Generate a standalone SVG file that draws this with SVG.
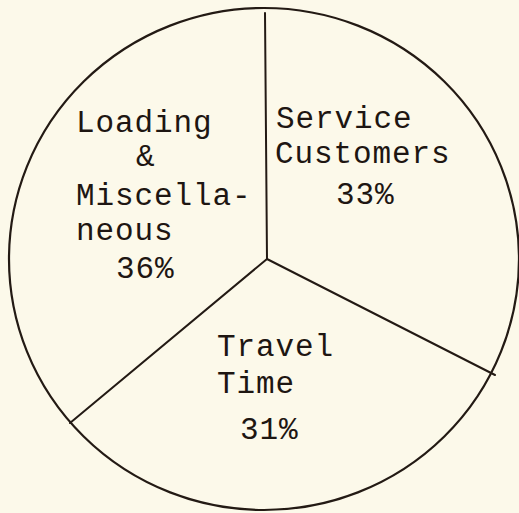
<svg xmlns="http://www.w3.org/2000/svg" width="519" height="513" viewBox="0 0 519 513">
  <style>
    .bg { fill: #fcf9ea; }
    .rim { fill: none; stroke: #231a14; stroke-width: 2.2; }
    .spoke { fill: none; stroke: #231a14; stroke-width: 2; stroke-linecap: round; }
    .lbl { font-family: "Liberation Mono", "DejaVu Sans Mono", monospace; font-size: 31px; letter-spacing: 0.9px; fill: #1e1612; }
  </style>
  <rect class="bg" x="0" y="0" width="519" height="513"/>
  <ellipse class="rim" cx="264" cy="259" rx="255" ry="251"/>

  <g id="connectors">
    <line class="spoke" x1="265" y1="13" x2="267" y2="259"/>
    <line class="spoke" x1="267" y1="259" x2="495" y2="375"/>
    <line class="spoke" x1="267" y1="259" x2="70" y2="423"/>
  </g>

  <g id="loading-misc">
    <text class="lbl" x="76" y="132">Loading</text>
    <text class="lbl" x="136" y="166">&amp;</text>
    <text class="lbl" x="76" y="205">Miscella-</text>
    <text class="lbl" x="76" y="240">neous</text>
    <text class="lbl" x="116" y="278">36%</text>
  </g>

  <g id="service-customers">
    <text class="lbl" x="276" y="128">Service</text>
    <text class="lbl" x="275" y="163">Customers</text>
    <text class="lbl" x="336" y="204">33%</text>
  </g>

  <g id="travel-time">
    <text class="lbl" x="217" y="356">Travel</text>
    <text class="lbl" x="217" y="393">Time</text>
    <text class="lbl" x="240" y="439">31%</text>
  </g>
</svg>
